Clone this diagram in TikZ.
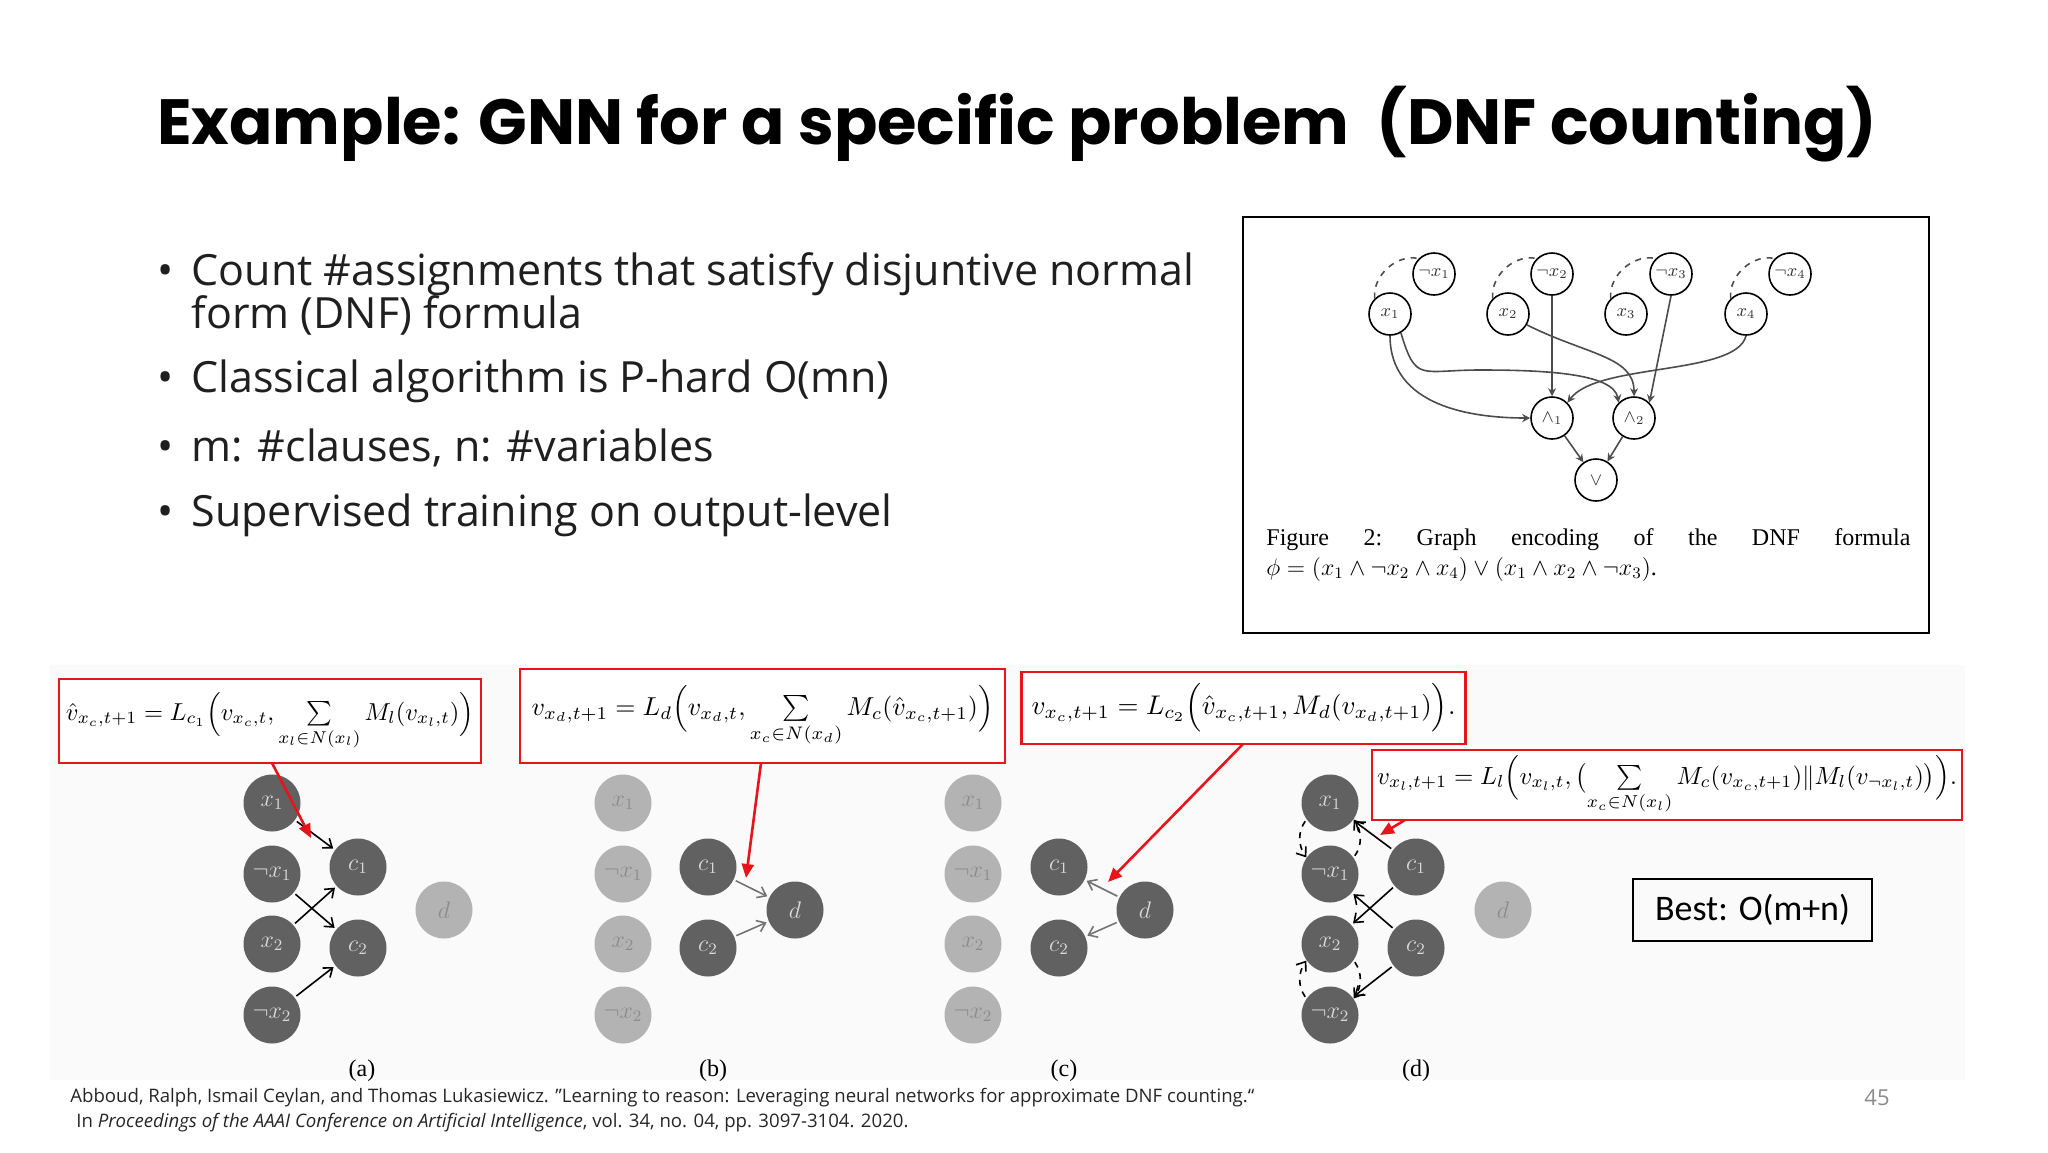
\documentclass[tikz,border=0pt]{standalone}
\usepackage{fontspec}
\usepackage{amsmath,graphicx}
\setmainfont{Open Sans}
\newfontfamily\titlefont{Poppins}
\newfontfamily\capfont{Liberation Serif}
\newfontfamily\bestfont{Carlito}
\usetikzlibrary{arrows.meta}
\definecolor{redbox}{HTML}{E8141B}
\definecolor{dk}{HTML}{616161}
\definecolor{lt}{HTML}{B3B3B3}
\tikzset{
 fn/.style={circle,draw,thick,minimum size=21pt,inner sep=0pt,font=\small,text=black!80},
 fe/.style={-{Stealth[length=4pt,width=4pt,open]},draw=black!70,thick},
 dn/.style={circle,fill=dk,minimum size=28.5pt,inner sep=0pt,text=white!85!black,font=\large},
 ln/.style={circle,fill=lt,minimum size=28.5pt,inner sep=0pt,text=black!45,font=\large},
 be/.style={-{Straight Barb[length=4pt,width=6pt]},thick,shorten <=1pt,shorten >=1pt},
 ge/.style={be,draw=black!55},
 rbox/.style={draw=redbox,line width=1.3pt,fill=white,inner sep=0pt},
 ra/.style={-{Triangle[length=7pt,width=6pt]},draw=redbox,line width=1.3pt},
 bul/.style={anchor=west,inner sep=0pt,font=\fontsize{21.5}{24}\selectfont,text=black!88},
}
\begin{document}
\begin{tikzpicture}[x=0.5pt,y=-0.5pt]
\useasboundingbox (0,0) rectangle (2048,1152);
\fill[black!2] (50,665) rectangle (1965,1080);
% title
\node[anchor=west,inner sep=0pt] (title) at (157,124) {\resizebox{860pt}{!}{\titlefont\fontsize{40}{44}\selectfont\bfseries Example: GNN for a specific problem\ \ (DNF counting)}};
% bullets
\foreach \y/\t [count=\i] in {274/Count \#assignments that satisfy disjuntive normal,381/Classical algorithm is P-hard O(mn),448/{m: \#clauses, n: \#variables},515/Supervised training on output-level}{
 \node[bul] (b\i) at (157,\y) {\textbullet\hspace{9pt}\t};}
\node[bul] (b1b) at (157,315) {\hphantom{\textbullet\hspace{9pt}}form (DNF) formula};
% figure box
\draw[thick] (1243,217) rectangle (1929,633);
\node[fn] (x1) at (1390,314) {$x_1$};
\node[fn] (n1) at (1434,274) {$\neg x_1$};
\node[fn] (x2) at (1508,314) {$x_2$};
\node[fn] (n2) at (1552,274) {$\neg x_2$};
\node[fn] (x3) at (1626,314) {$x_3$};
\node[fn] (n3) at (1671,274) {$\neg x_3$};
\node[fn] (x4) at (1746,314) {$x_4$};
\node[fn] (n4) at (1790,274) {$\neg x_4$};
\node[fn] (a1) at (1552,418) {$\wedge_1$};
\node[fn] (a2) at (1634,418) {$\wedge_2$};
\node[fn] (o) at (1596,480) {$\vee$};
\foreach \a/\b in {x1/n1,x2/n2,x3/n3,x4/n4}
 \draw[dashed,thick,black!70] (\a.north west) .. controls +(-2,-25) and +(-20,-5) .. (\b.north west);
\draw[fe] (x1.south) .. controls +(0,70) and +(-60,0) .. (a1.west);
\draw[fe] (x1.-60) .. controls +(15,50) and +(-60,0) .. (1480,370) .. controls +(60,0) and +(-5,-30) .. (a2.north west);
\draw[fe] (x2.-30) .. controls +(60,30) and +(0,-40) .. (a2.north);
\draw[fe] (n2.south) -- (a1.north);
\draw[fe] (n3.south) -- (a2.north east);
\draw[fe] (x4.south) .. controls +(-10,40) and +(30,-40) .. (a1.north east);
\draw[fe] (a1) -- (o);
\draw[fe] (a2) -- (o);
\node[anchor=north west,text width=322pt,align=justify,font=\capfont\fontsize{12}{15}\selectfont,inner sep=0pt] (cap) at (1266,528)
 {Figure\hfill 2:\hfill Graph\hfill encoding\hfill of\hfill the\hfill DNF\hfill formula\\ $\phi=(x_1\wedge\neg x_2\wedge x_4)\vee(x_1\wedge x_2\wedge\neg x_3)$.};
% panels
\foreach \p/\xx/\cx/\dx/\st/\cs/\ds in {a/272/358/444/dn/dn/ln,b/623/708/795/ln/dn/dn,c/973/1059/1145/ln/dn/dn,d/1330/1416/1503/dn/dn/ln}{
 \node[\st] (\p x1) at (\xx,803) {$x_1$};
 \node[\st] (\p n1) at (\xx,874) {$\neg x_1$};
 \node[\st] (\p x2) at (\xx,944) {$x_2$};
 \node[\st] (\p n2) at (\xx,1015) {$\neg x_2$};
 \node[\cs] (\p c1) at (\cx,867) {$c_1$};
 \node[\cs] (\p c2) at (\cx,948) {$c_2$};
 \node[\ds] (\p d) at (\dx,910) {$d$};
}
\foreach \p/\x in {a/362,b/713,c/1064,d/1416}
 \node[font=\capfont\fontsize{12}{12}\selectfont] (lab\p) at (\x,1071) {(\p)};
\draw[be] (ax1) -- (ac1);
\draw[be] (an1) -- (ac2);
\draw[be] (ax2) -- (ac1);
\draw[be] (an2) -- (ac2);
\draw[ge] (bc1) -- (bd);
\draw[ge] (bc2) -- (bd);
\draw[ge] (cd) -- (cc1);
\draw[ge] (cd) -- (cc2);
\draw[be] (dc1) -- (dx1);
\draw[be] (dc1) -- (dx2);
\draw[be] (dc2) -- (dn1);
\draw[be] (dc2) -- (dn2);
\draw[be,dashed,shorten >=0pt] (dx1.215) to[bend right=35] (dn1.145);
\draw[be,dashed,shorten >=0pt] (dn1.35) to[bend right=35] (dx1.-35);
\draw[be,dashed,shorten >=0pt] (dn2.145) to[bend left=35] (dx2.215);
\draw[be,dashed,shorten >=0pt] (dx2.-35) to[bend left=35] (dn2.35);
% formula boxes
\node[rbox,minimum width=211pt,minimum height=42pt] (fa) at (270,721) {\resizebox{204pt}{!}{$\hat v_{x_c,t+1}=L_{c_1}\Bigl(v_{x_c,t},\sum\limits_{x_l\in N(x_l)}M_l(v_{x_l,t})\Bigr)$}};
\node[rbox,minimum width=242.5pt,minimum height=47pt] (fb) at (762.5,716) {\resizebox{231pt}{!}{$v_{x_d,t+1}=L_d\Bigl(v_{x_d,t},\sum\limits_{x_c\in N(x_d)}M_c(\hat v_{x_c,t+1})\Bigr)$}};
\node[rbox,minimum width=222pt,minimum height=36pt] (fc) at (1243.5,708) {\resizebox{212pt}{!}{$v_{x_c,t+1}=L_{c_2}\Bigl(\hat v_{x_c,t+1},M_d(v_{x_d,t+1})\Bigr).$}};
\node[rbox,minimum width=295pt,minimum height=35pt] (fd) at (1667,785) {\resizebox{290pt}{!}{$v_{x_l,t+1}=L_l\Bigl(v_{x_l,t},\bigl(\sum\limits_{x_c\in N(x_l)}M_c(v_{x_c,t+1})\|M_l(v_{\neg x_l,t})\bigr)\Bigr).$}};
\coordinate (ta) at (311,838);
\coordinate (tb) at (746,878);
\coordinate (tc) at (1108,882);
\coordinate (td) at (1380,835);
\draw[ra] (272,763) -- (ta);
\draw[ra] (761,763) -- (tb);
\draw[ra] (1243,744) -- (tc);
\draw[ra] (1405,820) -- (td);
% best
\node[draw,thick,minimum width=119.5pt,minimum height=31pt,font=\bestfont\fontsize{18}{20}\selectfont] (best) at (1752.5,910) {Best: O(m+n)};
% footer
\node[anchor=west,inner sep=0pt,font=\fontsize{9.3}{11}\selectfont,text=black!85] (ref1) at (70,1098) {Abboud, Ralph, Ismail Ceylan, and Thomas Lukasiewicz. "Learning to reason: Leveraging neural networks for approximate DNF counting.“};
\node[anchor=west,inner sep=0pt,font=\fontsize{9.3}{11}\selectfont,text=black!85] (ref2) at (76,1123) {In \textit{Proceedings of the AAAI Conference on Artificial Intelligence}, vol. 34, no. 04, pp. 3097-3104. 2020.};
\node[font=\fontsize{11}{12}\selectfont,text=black!45] (pg) at (1877,1098) {45};
\end{tikzpicture}
\end{document}
